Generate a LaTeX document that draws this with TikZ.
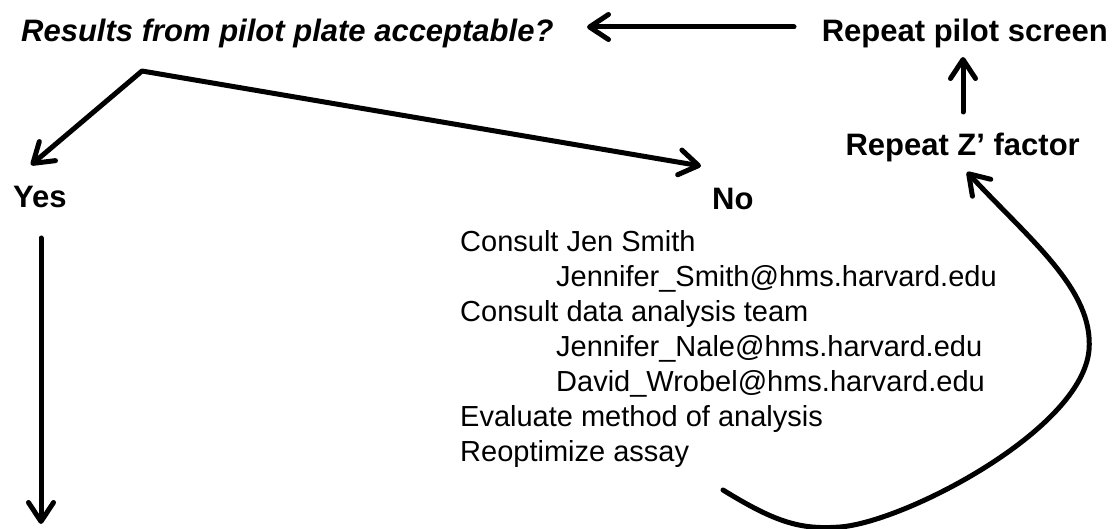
\documentclass[tikz,border=0pt]{standalone}
\usepackage{fontspec}
\setmainfont{Liberation Sans}
\usetikzlibrary{arrows.meta,calc}
\newcommand{\hdfont}{\fontsize{31}{37}\selectfont\bfseries}
\newcommand{\txfont}{\fontsize{29}{35}\selectfont}
\tikzset{
  tipstyle/.style={Straight Barb[length=19pt,width=25pt,line cap=round,line join=round]},
  arr/.style={line width=5pt, line cap=round, line join=round,
    -{Straight Barb[length=19pt,width=25pt,line cap=round,line join=round]}},
  darr/.style={line width=5pt, line cap=round, line join=round,
    {Straight Barb[length=19pt,width=25pt,line cap=round,line join=round]}-{Straight Barb[length=19pt,width=25pt,line cap=round,line join=round]}},
  hd/.style={font=\hdfont, inner sep=0pt},
  tx/.style={font=\txfont, inner sep=0pt, anchor=base west},
}
\begin{document}
\begin{tikzpicture}[x=1pt,y=-1pt]
\useasboundingbox (0,0) rectangle (1112,529);
% headings
\node[hd, font={\hdfont\itshape}, anchor=base west] (title) at (21,41.5) {Results from pilot plate acceptable?};
\node[hd, anchor=base east] (rps) at (1108,41.5) {Repeat pilot screen};
\node[hd, anchor=base east] (rz) at (1080,156) {Repeat Z’ factor};
\node[hd, anchor=base west] (yes) at (13,208) {Yes};
\node[hd, anchor=base west] (no) at (712,210) {No};
% text block
\node[tx] (l1) at (460,251.7) {Consult Jen Smith};
\node[tx] (l2) at (556,286.7) {Jennifer\_Smith@hms.harvard.edu};
\node[tx] (l3) at (460,321.7) {Consult data analysis team};
\node[tx] (l4) at (556,356.7) {Jennifer\_Nale@hms.harvard.edu};
\node[tx] (l5) at (556,391.7) {David\_Wrobel@hms.harvard.edu};
\node[tx] (l6) at (460,426.7) {Evaluate method of analysis};
\node[tx] (l7) at (460,461.7) {Reoptimize assay};
% connector points
\coordinate (c1) at (794,27);
\coordinate (c2) at (587,27);
\coordinate (u1) at (963,112);
\coordinate (u2) at (963,57);
\coordinate (yt) at (31,165);
\coordinate (corner) at (142,71);
\coordinate (nt) at (701,166);
\coordinate (d1) at (41,238);
\coordinate (d2) at (41,524);
\coordinate (cs) at (723,490);
\coordinate (ce) at (967,172);
% connectors
\draw[arr] (c1) -- (c2);
\draw[arr] (u1) -- (u2);
\draw[darr] (yt) -- (corner) -- (nt);
\draw[arr] (d1) -- (d2);
\draw[arr] (cs) .. controls (775,522) and (800,530) .. (840,527)
  .. controls (905,522) and (1082,430) .. (1089,350)
  .. controls (1094,290) and (1030,240) .. (ce);
\end{tikzpicture}
\end{document}
